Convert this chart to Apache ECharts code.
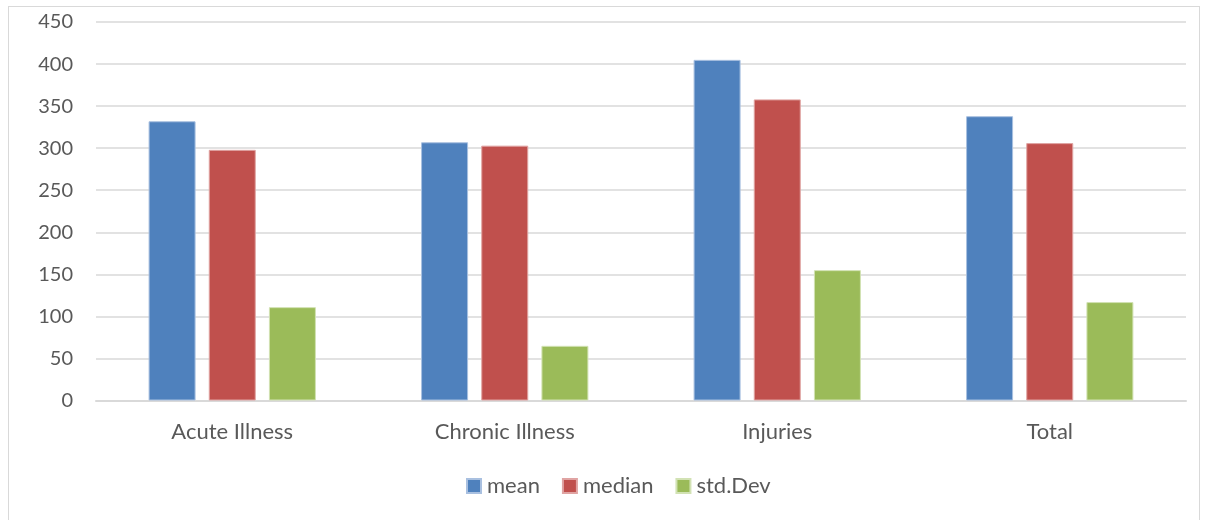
<!DOCTYPE html>
<html>
<head>
<meta charset="utf-8">
<script src="https://cdn.jsdelivr.net/npm/echarts@6/dist/echarts.min.js"></script>
<style>
  html, body { margin: 0; padding: 0; background: #fff; }
  #frame { position: absolute; left: 8px; top: 6px; width: 1192px; height: 540px; border: 1px solid #d9d9d9; box-sizing: border-box; }
  #chart { position: absolute; left: 0; top: 0; width: 1209px; height: 520px; }
</style>
</head>
<body>
<div id="frame"></div>
<div id="chart"></div>
<script>
// Categories and series values
const categories = ['Acute Illness', 'Chronic Illness', 'Injuries', 'Total'];
const meanValues = [332, 307, 405, 338];
const medianValues = [298, 303, 358, 306];
const stdDevValues = [111, 65, 155, 117];
const yTicks = { min: 0, max: 450, interval: 50 };

const textColor = '#595959';
const fontFamily = 'Lato, "Open Sans", sans-serif';

const chart = echarts.init(document.getElementById('chart'), null, { renderer: 'canvas' });

function barSeries(name, data, color, border) {
  return {
    name: name,
    type: 'bar',
    data: data,
    barWidth: 47,
    barGap: '28%',
    itemStyle: { color: color, borderColor: border, borderWidth: 1 },
    emphasis: { disabled: true }
  };
}

chart.setOption({
  animation: false,
  textStyle: { fontFamily: fontFamily, color: textColor },
  grid: { left: 96, right: 23, top: 22, bottom: 119.5, containLabel: false },
  legend: {
    bottom: 18,
    left: 461,
    itemWidth: 14,
    itemHeight: 14,
    itemGap: 22,
    icon: 'rect',
    textStyle: { fontSize: 22, color: textColor, fontFamily: fontFamily, padding: [0, 0, 0, 1] },
    data: ['mean', 'median', 'std.Dev']
  },
  xAxis: {
    type: 'category',
    data: categories,
    axisLine: { lineStyle: { color: '#d9d9d9', width: 2 } },
    axisTick: { show: false },
    axisLabel: { fontSize: 22, color: textColor, margin: 20, fontFamily: fontFamily }
  },
  yAxis: {
    type: 'value',
    min: yTicks.min,
    max: yTicks.max,
    interval: yTicks.interval,
    axisLine: { show: false },
    axisTick: { show: false },
    axisLabel: { fontSize: 20, color: textColor, margin: 23, fontFamily: fontFamily },
    splitLine: { lineStyle: { color: '#d9d9d9', width: 1.5 } }
  },
  series: [
    barSeries('mean', meanValues, '#4F81BD', '#a9c0e0'),
    barSeries('median', medianValues, '#C0504D', '#e0a4a3'),
    barSeries('std.Dev', stdDevValues, '#9BBB59', '#d2e2b4')
  ]
});
</script>
</body>
</html>
